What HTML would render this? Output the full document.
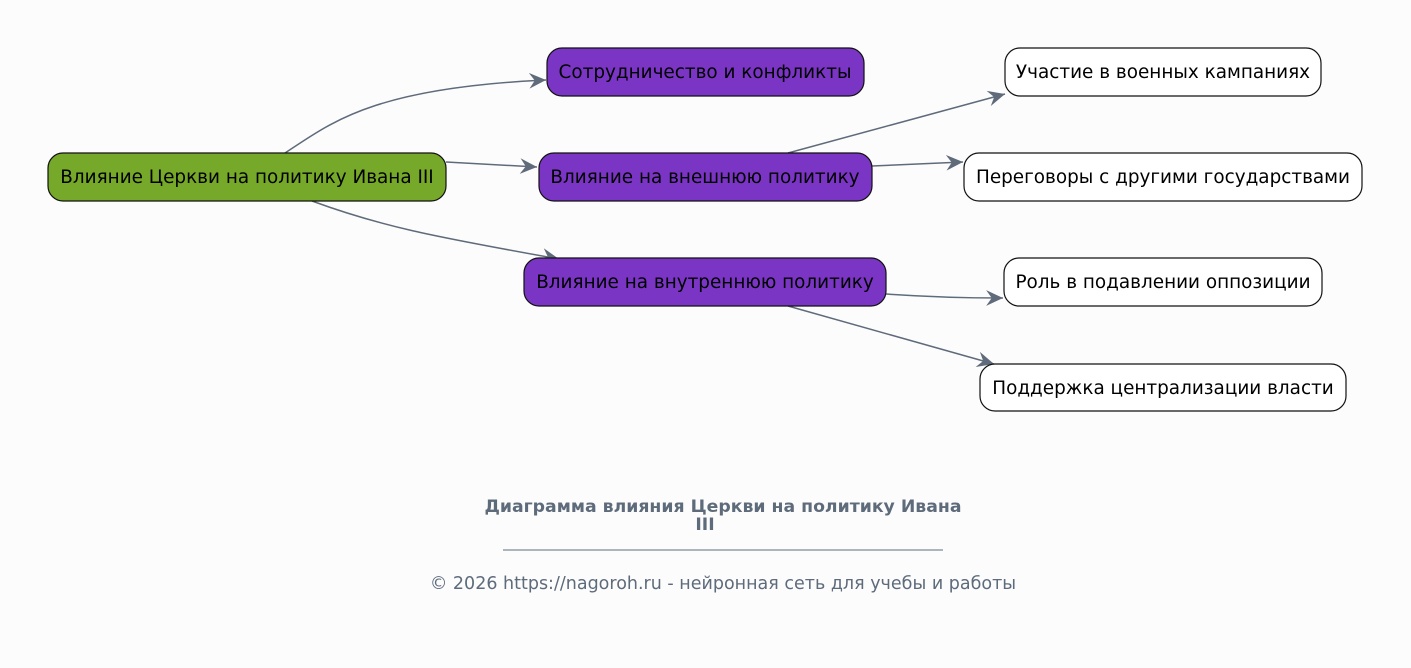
<!DOCTYPE html>
<html><head><meta charset="utf-8"><style>
html,body{margin:0;padding:0;background:#fcfcfc;}
svg{display:block;font-family:"DejaVu Sans","Liberation Sans",sans-serif;}
</style></head><body>
<svg width="1411" height="668" viewBox="0 0 1411 668" xmlns="http://www.w3.org/2000/svg">
<defs>
<marker id="a" viewBox="0 0 16 14" refX="15" refY="7" markerWidth="18" markerHeight="16" markerUnits="userSpaceOnUse" orient="auto">
<path d="M0,0 L15,7 L0,14 L5,7 Z" fill="#5f6b7a"/>
</marker>
</defs>
<rect width="1411" height="668" fill="#fcfcfc"/>
<g fill="none" stroke="#5f6b7a" stroke-width="1.5" marker-end="url(#a)">
<path d="M285,153 C330,124 370,88 546,80"/>
<path d="M446,162 L537,167"/>
<path d="M312,201 C380,226 430,236 559,259"/>
<path d="M788,153 L1005,94"/>
<path d="M872,166 L963,162"/>
<path d="M886,294 C930,297 960,298 1003,298"/>
<path d="M788,306 L994,364"/>
</g>
<g stroke="#111" stroke-width="1.2">
<rect x="48" y="153" width="398" height="48" rx="15" fill="#76a82a"/>
<rect x="547" y="48" width="317" height="48" rx="15" fill="#7b35c4"/>
<rect x="539" y="153" width="333" height="48" rx="15" fill="#7b35c4"/>
<rect x="524" y="258" width="362" height="48" rx="15" fill="#7b35c4"/>
<rect x="1005" y="48" width="316" height="48" rx="15" fill="#fff"/>
<rect x="964" y="153" width="398" height="48" rx="15" fill="#fff"/>
<rect x="1004" y="258" width="318" height="48" rx="15" fill="#fff"/>
<rect x="980" y="364" width="366" height="47" rx="15" fill="#fff"/>
</g>
<g font-size="18.4" fill="#000" text-anchor="middle">
<text x="247" y="183">Влияние Церкви на политику Ивана III</text>
<text x="705" y="78">Сотрудничество и конфликты</text>
<text x="705" y="183">Влияние на внешнюю политику</text>
<text x="705" y="288">Влияние на внутреннюю политику</text>
<text x="1163" y="78">Участие в военных кампаниях</text>
<text x="1163" y="183">Переговоры с другими государствами</text>
<text x="1163" y="288">Роль в подавлении оппозиции</text>
<text x="1163" y="394">Поддержка централизации власти</text>
</g>
<g fill="#5e6b7b" text-anchor="middle">
<text x="723" y="512" font-size="17.3" font-weight="bold">Диаграмма влияния Церкви на политику Ивана</text>
<text x="705" y="530" font-size="17.3" font-weight="bold">III</text>
<line x1="503" y1="550" x2="943" y2="550" stroke="#5e6b7b" stroke-width="1"/>
<text x="723" y="589" font-size="17.5">© 2026 https://nagoroh.ru - нейронная сеть для учебы и работы</text>
</g>
</svg>
</body></html>
